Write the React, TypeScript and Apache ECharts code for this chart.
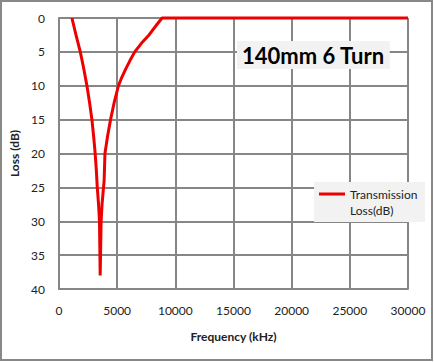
import React, { useEffect, useRef } from "react";
import * as echarts from "echarts";

const frequencies = [
  1110, 1460, 1830, 2130, 2400, 2630, 2830, 2980, 3110, 3210, 3290, 3400, 3480, 3510, 3540,
  3580, 3620, 3700, 3800, 3880, 3950, 4170, 4430, 4740, 5110, 5400, 5740, 6110, 6510, 7100, 7740, 8400, 8860,
  10000, 15000, 20000, 25000, 30000,
];
const lossDb = [
  0, 2.5, 5, 7.5, 10, 12.5, 15, 17.5, 20, 22.5, 25, 27.5, 30, 34, 38,
  34, 30, 27.5, 25.5, 24, 20, 17.5, 15, 12.5, 10, 8.75, 7.5, 6.25, 5, 3.7, 2.5, 1, 0,
  0, 0, 0, 0, 0,
];
const seriesName = "Transmission\nLoss(dB)";
const chartTitle = "140mm 6 Turn";
const xAxisTitle = "Frequency (kHz)";
const yAxisTitle = "Loss (dB)";

export default function App() {
  const ref = useRef<HTMLDivElement>(null);
  useEffect(() => {
    if (!ref.current) return;
    const chart = echarts.init(ref.current, null, { renderer: "svg" });
    const font = "Lato, 'Open Sans', sans-serif";
    const grey = "#868686";
    chart.setOption({
      animation: false,
      backgroundColor: "#ffffff",
      textStyle: { fontFamily: font },
      title: {
        text: chartTitle,
        left: 237,
        top: 41,
        padding: [3, 5, 3, 5],
        backgroundColor: "#f2f2f2",
        textStyle: { fontFamily: font, fontWeight: "bold", fontSize: 22, color: "#000" },
      },
      legend: {
        left: 319,
        top: 170,
        padding: 0,
        itemWidth: 26,
        itemHeight: 3,
        icon: "rect",
        formatter: (name: string) => "\n" + name,
        textStyle: { fontFamily: font, fontSize: 12, color: "#222", lineHeight: 16 },
        data: [seriesName],
      },
      graphic: [
        {
          type: "rect",
          z: 3,
          shape: { x: 314, y: 182, width: 111, height: 40 },
          style: { fill: "#f2f2f2" },
          silent: true,
        },
        {
          type: "rect",
          z: 3,
          shape: { x: 1, y: 1, width: 431, height: 359 },
          style: { fill: "none", stroke: "#888888", lineWidth: 2 },
          silent: true,
        },
      ],
      grid: { left: 58, right: 26, top: 18, bottom: 73, containLabel: false },
      xAxis: {
        type: "value",
        min: 0,
        max: 30000,
        interval: 5000,
        name: xAxisTitle,
        nameLocation: "middle",
        nameGap: 41,
        nameTextStyle: { fontFamily: font, fontWeight: "bold", fontSize: 12, color: "#222" },
        axisLine: { show: true, onZero: false, lineStyle: { color: grey, width: 2 } },
        axisTick: { show: false },
        axisLabel: {
          margin: 15,
          fontFamily: font,
          fontSize: 12,
          color: "#222",
          formatter: (v: number) => String(v),
        },
        splitLine: { show: true, lineStyle: { color: grey, width: 2 } },
      },
      yAxis: {
        type: "value",
        inverse: true,
        min: 0,
        max: 40,
        interval: 5,
        name: yAxisTitle,
        nameLocation: "middle",
        nameGap: 39,
        nameTextStyle: { fontFamily: font, fontWeight: "bold", fontSize: 12, color: "#222" },
        axisLine: { show: true, lineStyle: { color: grey, width: 2 } },
        axisTick: { show: false },
        axisLabel: { margin: 14, fontFamily: font, fontSize: 12, color: "#222" },
        splitLine: { show: true, lineStyle: { color: grey, width: 2 } },
      },
      series: [
        {
          name: seriesName,
          type: "line",
          showSymbol: false,
          clip: false,
          color: "#ee0000",
          lineStyle: { color: "#ee0000", width: 3 },
          data: frequencies.map((f, i) => [f, lossDb[i]]),
        },
      ],
    });
    return () => chart.dispose();
  }, []);
  return (
    <div
      ref={ref}
      style={{ position: "absolute", left: 0, top: 0, width: 434, height: 362 }}
    />
  );
}
